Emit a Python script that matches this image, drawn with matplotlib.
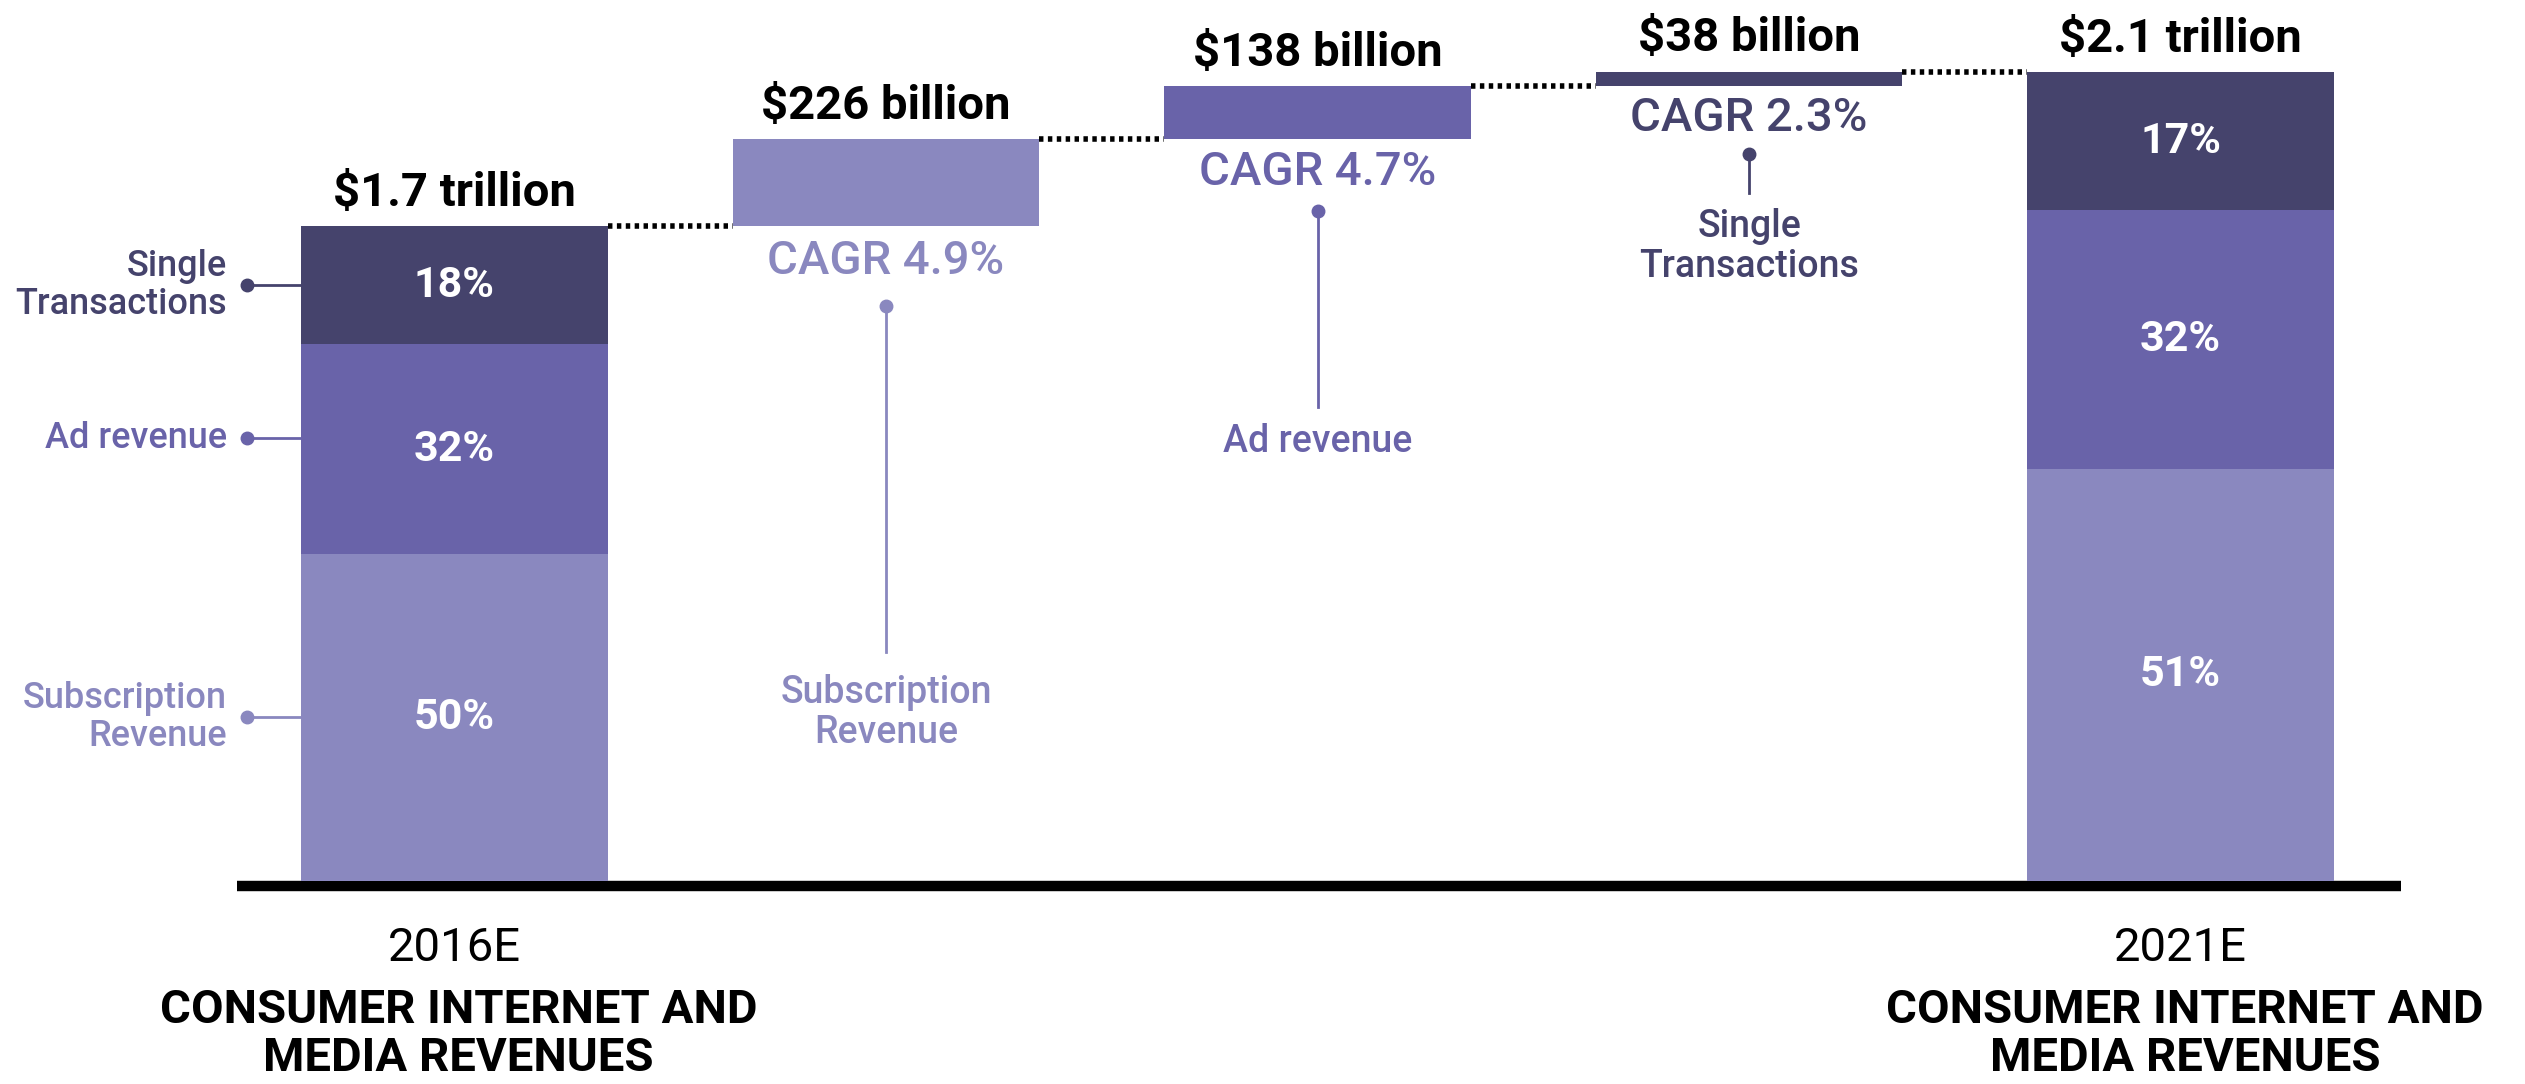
import matplotlib.pyplot as plt

plt.rcParams['font.family'] = ['Roboto', 'DejaVu Sans']

# Segment order bottom -> top
segments = ['Subscription\nRevenue', 'Ad revenue', 'Single\nTransactions']
shares_2016 = [50, 32, 18]
shares_2021 = [51, 32, 17]
total_2016 = 1.7   # trillion
total_2021 = 2.1   # trillion
totals_text = ['$1.7 trillion', '$2.1 trillion']

# Growth steps 2016 -> 2021 (billion), one per segment
step_values = [226, 138, 38]
step_cagr = [4.9, 4.7, 2.3]
step_labels = ['Subscription\nRevenue', 'Ad revenue', 'Single\nTransactions']

year_labels = ['2016E', '2021E']
bottom_title = 'CONSUMER INTERNET AND\nMEDIA REVENUES'

colors = ['#8a88bf', '#6963a9', '#45436c']

fig = plt.figure(figsize=(25.25, 10.84), dpi=100)
ax = fig.add_axes([0, 0, 1, 1])
ax.set_xlim(-1.053, 4.798)
ax.set_ylim(-0.527, 2.288)
ax.axis('off')

w = 0.711
px = 2.815 / 1084  # one pixel in data units (y)

# baseline
ax.plot([-0.504, 4.511], [-5 * px, -5 * px], color='black', lw=7.5, solid_capstyle='butt', zorder=1)


def stacked_bar(x, total, shares):
    bottom = 0
    mids = []
    for s, c in zip(shares, colors):
        h = total * s / 100
        ax.bar(x, h, width=w, bottom=bottom, color=c, zorder=2)
        mids.append(bottom + h / 2)
        ax.text(x, bottom + h / 2, f'{s}%', color='white', fontsize=31, fontweight='bold',
                ha='center', va='center', zorder=3)
        bottom += h
    return mids


mids_2016 = stacked_bar(0, total_2016, shares_2016)
stacked_bar(4, total_2021, shares_2021)

for x, total, txt in [(0, total_2016, totals_text[0]), (4, total_2021, totals_text[1])]:
    ax.annotate(txt, (x, total), xytext=(0, 24), textcoords='offset points',
                ha='center', va='center', fontsize=34, fontweight='bold', color='black')

# side labels for the 2016 bar
label_nudge = [0, 11, 0]
for y, dy, name, c in zip(mids_2016, label_nudge, segments, colors):
    y = y + dy * px
    x0 = -w / 2
    xd = (247 - 454.5) / 431.5
    ax.plot([xd, x0], [y, y], color=c, lw=2, zorder=1)
    ax.plot(xd, y, 'o', color=c, ms=9)
    ax.text((227 - 454.5) / 431.5, y, name, color=c, fontsize=26, fontweight='medium',
            ha='right', va='center', linespacing=1.1)

# waterfall steps
level = total_2016
prev_right = w / 2
annot = [(35, 80, 426, 486), (33, 72, 268, 302), (32, 68, 107, 160)]
for i, (val, cagr, lab) in enumerate(zip(step_values, step_cagr, step_labels)):
    x = i + 1
    h = val / 1000
    c = colors[i]
    ax.plot([prev_right, x - w / 2], [level, level], color='black', lw=4,
            ls=(0, (0.8, 0.8)), zorder=1)
    ax.bar(x, h, width=w, bottom=level, color=c, zorder=2)
    ax.annotate(f'${val} billion', (x, level + h), xytext=(0, 24), textcoords='offset points',
                ha='center', va='center', fontsize=34, fontweight='bold', color='black')
    d_cagr, d_dot, d_end, d_text = annot[i]
    ax.text(x, level - d_cagr * px, f'CAGR {cagr}%', color=c, fontsize=34,
            fontweight='medium', ha='center', va='center')
    ax.plot([x, x], [level - d_dot * px, level - d_end * px], color=c, lw=2)
    ax.plot(x, level - d_dot * px, 'o', color=c, ms=9)
    ax.text(x, level - d_text * px, lab, color=c, fontsize=27, fontweight='medium',
            ha='center', va='center', linespacing=1.1)
    level += h
    prev_right = x + w / 2

ax.plot([prev_right, 4 - w / 2], [level, level], color='black', lw=4,
        ls=(0, (0.8, 0.8)), zorder=1)

# category labels under the baseline
for x, yr in zip([0, 4], year_labels):
    ax.text(x, (881 - 948) * px, yr, fontsize=34, ha='center', va='center')
    ax.text(x + 0.01, (881 - 1034) * px, bottom_title, fontsize=34, fontweight='bold',
            ha='center', va='center', linespacing=1.12)

fig.savefig('out.png', dpi=100)
